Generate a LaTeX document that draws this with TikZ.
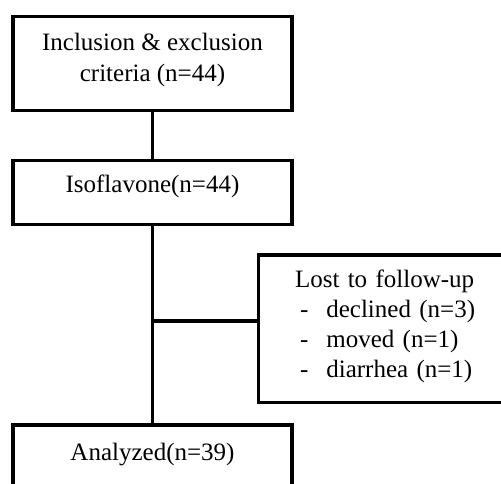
\documentclass[tikz,border=0pt]{standalone}
\usepackage{fontspec}
\setmainfont{Liberation Serif}
\begin{document}
\begin{tikzpicture}[x=1pt, y=-1pt,
  font=\fontsize{25}{31}\selectfont,
  box/.style={draw, line width=3.5pt, inner sep=0pt, outer sep=0pt, minimum width=279pt},
  conn/.style={line width=3.5pt}]

\useasboundingbox (0,0) rectangle (501,484);
\clip (0,0) rectangle (501,484);

\node[box, anchor=north, align=center, text height=65.5pt, text depth=28.5pt] (incl) at (152.5,16.5)
  {Inclusion \& exclusion\\criteria (n=44)};
\node[box, anchor=north, text height=32.5pt, text depth=31.5pt] (iso) at (152.5,160.5) {Isoflavone(n=44)};
\node[box, anchor=north west, align=left, text width=230pt, inner xsep=36.5pt,
  text height=32pt, text depth=115.5pt, font=\fontsize{25}{30}\selectfont] (lost) at (258.5,255)
  {Lost to follow-up\\
   \hspace*{5pt}-\hspace{18pt}declined (n=3)\\
   \hspace*{5pt}-\hspace{18pt}moved (n=1)\\
   \hspace*{5pt}-\hspace{18pt}diarrhea (n=1)};
\node[box, anchor=north, text height=35pt, text depth=70pt] (anal) at (152.5,425) {Analyzed(n=39)};

\draw[conn] (incl) -- (iso);
\draw[conn] (iso) -- (anal);
\coordinate (split) at (iso |- 0,321);
\draw[conn] (split) -- (split -| lost.west);

\end{tikzpicture}
\end{document}
